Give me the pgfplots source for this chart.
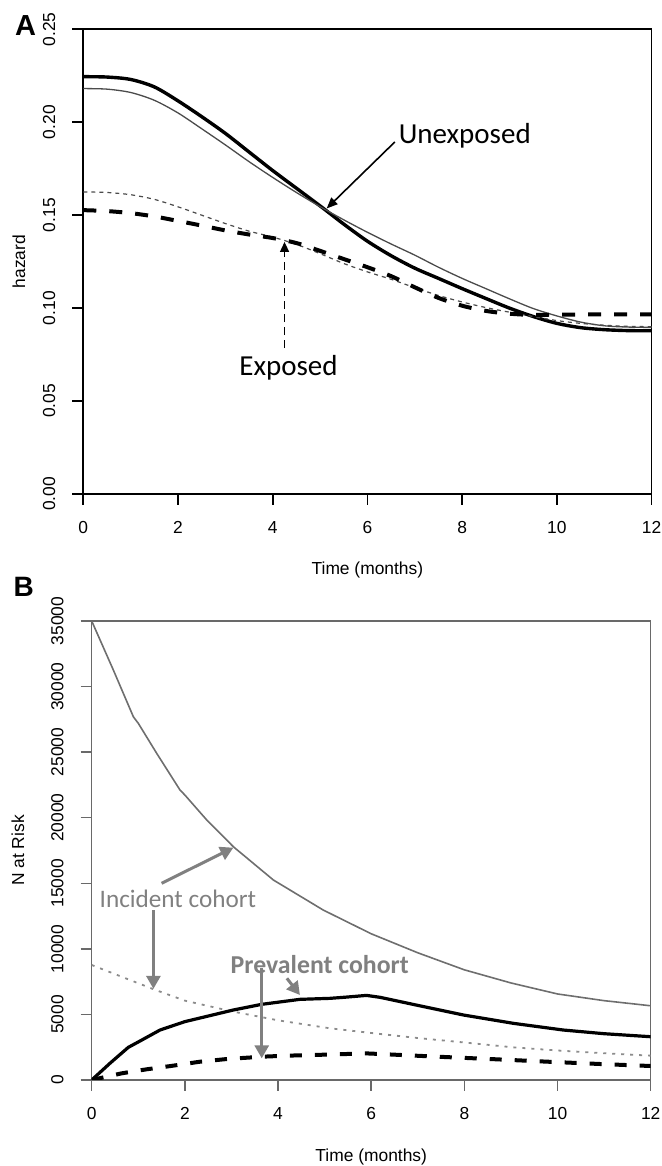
\documentclass[border=0pt]{standalone}
\usepackage{pgfplots}
\pgfplotsset{compat=1.18}
\usepackage{fontspec}
\setmainfont{Liberation Sans}
\newfontfamily\callout{Carlito}
\usetikzlibrary{arrows.meta}

\definecolor{annot}{RGB}{128,128,128}
\definecolor{incline}{RGB}{110,110,110}
\definecolor{incdot}{RGB}{140,140,140}
\definecolor{thinA}{RGB}{75,75,75}
\definecolor{frameB}{RGB}{105,105,105}

\pgfplotsset{
  rstyle/.style={
    scale only axis,
    anchor=south west,
    xmin=0, xmax=12,
    xtick={0,2,4,6,8,10,12},
    tick align=outside,
    major tick length=5.5pt,
    xtick pos=left, ytick pos=left,
    tick label style={font=\fontsize{8.7}{10}\selectfont},
    label style={font=\fontsize{8.7}{10}\selectfont},
    xticklabel style={yshift=-4.7pt},
    yticklabel style={rotate=90, yshift=5pt},
    /pgf/number format/assume math mode=true,
    scaled y ticks=false,
    xlabel={Time (months)},
  }
}

\begin{document}
\begin{tikzpicture}
\path[use as bounding box] (0,0) rectangle (331pt,583pt);

% ---------------- panel A
\begin{axis}[rstyle,
  at={(41.65pt,336pt)}, width=284.1pt, height=232.35pt,
  ymin=0, ymax=0.25,
  ytick={0,0.05,0.1,0.15,0.2,0.25},
  yticklabel style={/pgf/number format/.cd, fixed, fixed zerofill, precision=2},
  axis line style={line width=0.85pt},
  every tick/.style={line width=0.85pt, black},
  ylabel={hazard},
  x label style={at={(axis description cs:0.5,-0.1634)}, anchor=center},
  y label style={at={(axis description cs:-0.1132,0.5)}, anchor=center},
]
% unexposed, thick
\addplot[black, line width=1.7pt, smooth, no marks] coordinates {
(0,0.2245) (0.5,0.2243) (1,0.2230) (1.5,0.2190) (2,0.2115) (2.5,0.2030)
(3,0.1940) (3.5,0.1840) (4,0.1740) (4.5,0.1645) (5,0.1550) (5.5,0.1452)
(6,0.1360) (6.5,0.1282) (7,0.1215) (7.5,0.1160) (8,0.1105) (8.5,0.1052)
(9,0.1000) (9.5,0.0955) (10,0.0918) (10.5,0.0895) (11,0.0884) (11.5,0.0879)
(12,0.0878)};
% unexposed, thin
\addplot[thinA, line width=0.65pt, smooth, no marks] coordinates {
(0,0.2181) (0.5,0.2178) (1,0.2160) (1.5,0.2118) (2,0.2050) (2.5,0.1965)
(3,0.1878) (3.5,0.1788) (4,0.1703) (4.5,0.1622) (5,0.1546) (5.5,0.1475)
(6,0.1408) (6.5,0.1345) (7,0.1285) (7.5,0.1220) (8,0.1160) (8.5,0.1105)
(9,0.1050) (9.5,0.0998) (10,0.0958) (10.5,0.0925) (11,0.0905) (11.5,0.0898)
(12,0.0896)};
% exposed, thin dotted
\addplot[thinA, line width=0.6pt, dash pattern=on 2pt off 2pt, smooth, no marks] coordinates {
(0,0.1625) (0.5,0.1622) (1,0.1610) (1.5,0.1585) (2,0.1545) (2.5,0.1500)
(3,0.1455) (3.5,0.1414) (4,0.1382) (4.5,0.1343) (5,0.1293) (5.5,0.1240)
(6,0.1195) (6.5,0.1155) (7,0.1110) (7.5,0.1068) (8,0.1033) (8.5,0.1003)
(9,0.0978) (9.5,0.0955) (10,0.0933) (10.5,0.0918) (11,0.0908) (11.5,0.0902)
(12,0.0900)};
% exposed, thick dashed
\addplot[black, line width=2pt, dash pattern=on 6.5pt off 6.5pt, smooth, no marks] coordinates {
(0,0.1527) (0.5,0.1522) (1,0.1511) (1.5,0.1493) (2,0.1469) (2.5,0.1444)
(3,0.1418) (3.5,0.1396) (4,0.1377) (4.5,0.1350) (5,0.1308) (5.5,0.1264)
(6,0.1220) (6.5,0.1172) (7,0.1112) (7.5,0.1055) (8,0.1013) (8.5,0.0985)
(9,0.0970) (9.5,0.0963) (10,0.0965) (11,0.0966) (12,0.0966)};

\draw[-{Triangle[length=5.5pt,width=4.5pt]}, line width=0.8pt]
  (axis cs:6.58,0.1894) -- (axis cs:5.14,0.1536);
\node[font=\callout\fontsize{14.5}{16}\selectfont, anchor=base west, inner sep=0pt]
  at (axis cs:6.655,0.1887) {Unexposed};
\draw[-{Triangle[length=5pt,width=4.5pt]}, line width=0.7pt, dash pattern=on 4pt off 2.5pt]
  (axis cs:4.25,0.0785) -- (axis cs:4.25,0.1356);
\node[font=\callout\fontsize{14.5}{16}\selectfont, anchor=base, inner sep=0pt]
  at (axis cs:4.334,0.064) {Exposed};
\end{axis}

% ---------------- panel B
\begin{axis}[rstyle,
  at={(45.85pt,43pt)}, width=279.5pt, height=229.5pt,
  ymin=0, ymax=35000,
  ytick={0,5000,10000,15000,20000,25000,30000,35000},
  yticklabel style={/pgf/number format/.cd, 1000 sep={}},
  axis line style={line width=0.75pt, frameB},
  every tick/.style={line width=0.75pt, frameB},
  ylabel={N at Risk},
  x label style={at={(axis description cs:0.5,-0.1678)}, anchor=center},
  y label style={at={(axis description cs:-0.1318,0.5)}, anchor=center},
]
% incident cohort, unexposed
\addplot[incline, line width=0.8pt, no marks] coordinates {
(0,35000) (0.465,31260) (0.894,27700) (1.0,27200) (1.395,24910) (1.896,22110)
(2.0,21730) (2.47,19825) (3.04,17790) (3.9,15250) (4.97,12960) (6,11150)
(7,9700) (8,8400) (9,7400) (10,6560) (11,6050) (12,5660)};
% incident cohort, exposed
\addplot[incdot, line width=0.9pt, dash pattern=on 1.5pt off 3pt, no marks] coordinates {
(0,8770) (1.33,6916) (2,6050) (3.04,5210) (4,4550) (5.12,3940) (6.19,3510)
(7,3200) (8,2860) (9.05,2490) (10,2250) (11,2040) (12,1855)};
% prevalent cohort, unexposed
\addplot[black, line width=1.6pt, no marks] coordinates {
(0,0) (0.4,1300) (0.786,2490) (1.0,2900) (1.466,3810) (2,4450) (3.04,5337)
(3.65,5770) (4.47,6150) (5.12,6227) (5.5,6330) (5.9,6451) (6.19,6304)
(7,5690) (7.98,4956) (9.05,4321) (10.12,3812) (11,3530) (12,3300)};
% prevalent cohort, exposed
\addplot[black, line width=2pt, dash pattern=on 6pt off 6.5pt, no marks] coordinates {
(0,0) (0.644,508) (1.18,816) (1.75,1093) (2.33,1398) (2.9,1600) (3.68,1780)
(4.19,1855) (4.76,1906) (5.9,2028) (6.19,1982) (7.4,1780) (8.55,1600)
(9.77,1398) (10.91,1220) (12,1067)};

\begin{scope}[annot, line width=1.5pt, -{Triangle[length=6.5pt,width=7pt]}]
\draw (axis cs:1.50,15000) -- (axis cs:3.04,17715);
\draw (axis cs:1.325,12950) -- (axis cs:1.325,6950);
\draw (axis cs:3.65,8517) -- (axis cs:3.65,1652);
\draw (axis cs:4.19,7755) -- (axis cs:4.47,6481);
\end{scope}
\node[annot, font=\callout\fontsize{12.6}{14}\selectfont, anchor=base west, inner sep=0pt]
  at (axis cs:0.163,13170) {Incident cohort};
\node[annot, font=\callout\bfseries\fontsize{12.9}{14}\selectfont, anchor=base west, inner sep=0pt]
  at (axis cs:2.975,8136) {Prevalent cohort};
\end{axis}

\node[font=\bfseries\fontsize{14.5}{16}\selectfont] at (12.75pt,570pt) {A};
\node[font=\bfseries\fontsize{14}{16}\selectfont] at (11.85pt,289.65pt) {B};
\end{tikzpicture}
\end{document}
